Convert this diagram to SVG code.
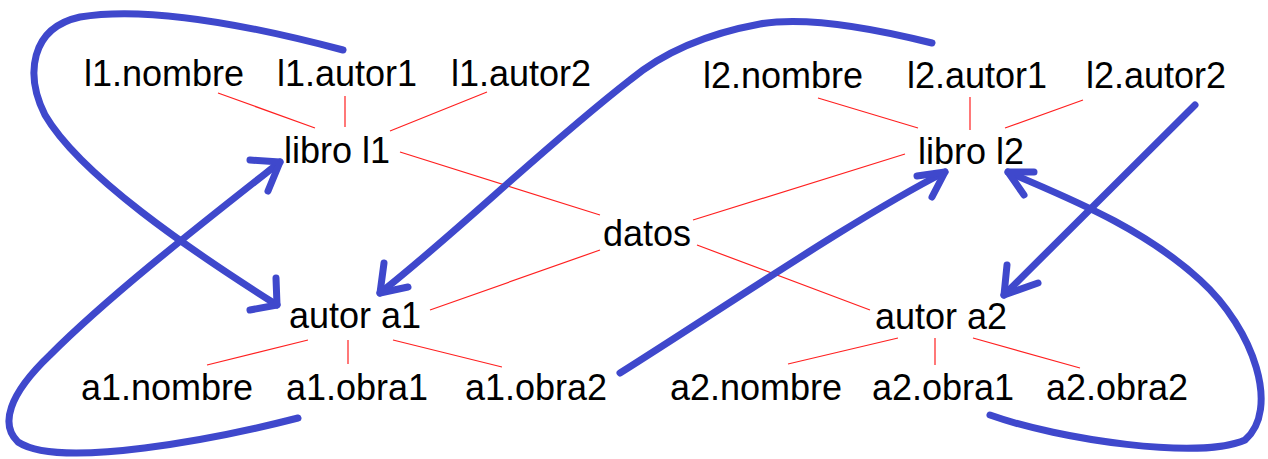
<svg xmlns="http://www.w3.org/2000/svg" width="1268" height="459" viewBox="0 0 1268 459">
<style>
text{font-family:"Liberation Sans",Arial,sans-serif;font-size:36px;fill:#000;text-anchor:middle}
.r{stroke:#ff2020;stroke-width:1.2;fill:none}
.b{stroke:#3f48cc;stroke-width:7;fill:none;stroke-linecap:round;stroke-linejoin:round}
</style>
<rect width="1268" height="459" fill="#fff"/>
<g id="l1_nombre"><text x="164" y="86">l1.nombre</text></g>
<g id="l1_autor1"><text x="347" y="86">l1.autor1</text></g>
<g id="l1_autor2"><text x="521" y="86">l1.autor2</text></g>
<g id="libro_l1"><text x="337" y="163">libro l1</text></g>
<g id="l2_nombre"><text x="783" y="88">l2.nombre</text></g>
<g id="l2_autor1"><text x="977" y="88">l2.autor1</text></g>
<g id="l2_autor2"><text x="1156" y="88">l2.autor2</text></g>
<g id="libro_l2"><text x="971" y="164">libro l2</text></g>
<g id="datos"><text x="647" y="246">datos</text></g>
<g id="autor_a1"><text x="355" y="328">autor a1</text></g>
<g id="a1_nombre"><text x="167" y="400">a1.nombre</text></g>
<g id="a1_obra1"><text x="357" y="400">a1.obra1</text></g>
<g id="a1_obra2"><text x="536" y="400">a1.obra2</text></g>
<g id="autor_a2"><text x="941" y="329">autor a2</text></g>
<g id="a2_nombre"><text x="756" y="400">a2.nombre</text></g>
<g id="a2_obra1"><text x="943" y="400">a2.obra1</text></g>
<g id="a2_obra2"><text x="1117" y="400">a2.obra2</text></g>
<g id="connectors">
<path class="r" d="M218,93L315,128M345,96V127M487,92L390,131M400,152L600,215M693,220L905,154M600,250L430,310M697,245L870,310M308,340L207,365M348,340V364M393,340L502,367M818,98L918,128M970,97V130M1083,100L1005,128M898,338L788,364M935,338V365M973,338L1080,368"/>
<path class="b" d="M343,50C260,28 150,5 80,17C30,28 25,75 45,115C80,175 190,250 277,305"/>
<path class="b" d="M276,278L277,305L250,310"/>
<path class="b" d="M298,418C220,438 60,470 18,442C0,425 8,395 50,355C110,295 200,225 280,162"/>
<path class="b" d="M250,160L280,162L268,191"/>
<path class="b" d="M620,373C720,310 860,215 945,172"/>
<path class="b" d="M917,176L945,172L932,197"/>
<path class="b" d="M932,43C860,25 800,17 760,24C700,35 660,55 630,80C540,150 460,230 380,293"/>
<path class="b" d="M384,263L380,293L408,287"/>
<path class="b" d="M1195,105L1004,295"/>
<path class="b" d="M1007,265L1004,295L1038,283"/>
<path class="b" d="M990,415C1060,440 1200,460 1245,440C1280,410 1255,330 1200,280C1140,225 1060,195 1008,172"/>
<path class="b" d="M1034,172L1008,172L1024,195"/>
</g>
</svg>
